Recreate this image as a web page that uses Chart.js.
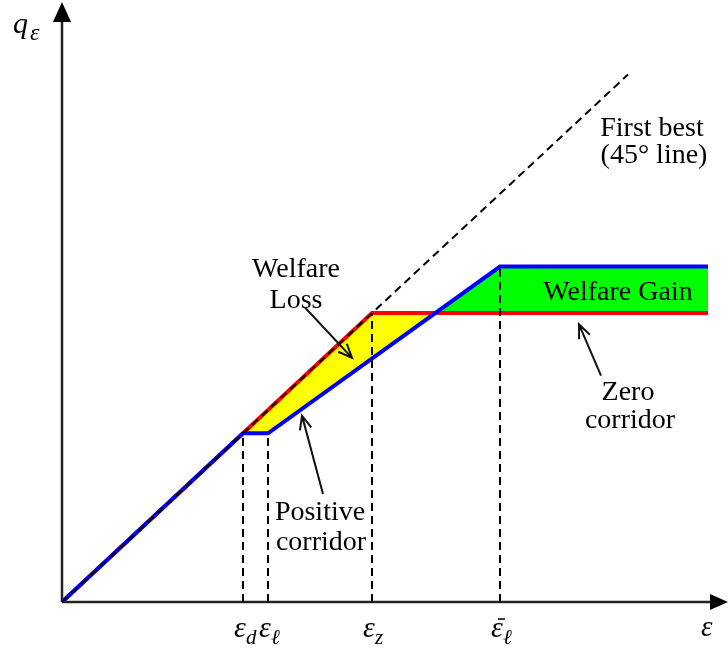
<!DOCTYPE html>
<html>
<head>
<meta charset="utf-8">
<script src="https://cdn.jsdelivr.net/npm/chart.js@4"></script>
<style>
  html, body { margin: 0; padding: 0; background: #fff; }
  #wrap { width: 728px; height: 648px; }
</style>
</head>
<body>
<div id="wrap"><canvas id="chart"></canvas></div>
<script>
// thresholds on the ε axis
const epsX = [181, 206, 310, 438];
const epsSub = ['d', 'ℓ', 'z', 'ℓ'];
const epsBar = [false, false, false, true];
// where each vertical guide stops (upper curve at that ε)
const guideTop = [181, 181, 310, 360];

// first best (45° line)
const firstBestX = [0, 566];
const firstBestY = [0, 566];
// zero corridor (red)
const zeroX = [0, 310, 646];
const zeroY = [0, 310, 310];
// positive corridor (blue)
const posX = [0, 181, 206, 438, 646];
const posY = [0, 181, 181, 360, 360];

const pts = (xs, ys) => xs.map((x, i) => ({ x: x, y: ys[i] }));

const dash = { borderColor: '#000', borderWidth: 2, borderDash: [8, 5], pointRadius: 0 };

const datasets = [
    Object.assign({ data: pts(firstBestX, firstBestY) }, dash)
];
epsX.forEach((x, i) => {
    datasets.push(Object.assign({ data: [{ x: x, y: 0 }, { x: x, y: guideTop[i] }] }, dash));
});
datasets.push({
    data: pts(posX, posY),
    borderColor: '#0000ff', borderWidth: 4, pointRadius: 0
});
datasets.push({
    data: pts(zeroX, zeroY),
    borderColor: '#ff0000', borderWidth: 4, pointRadius: 0,
    fill: { target: datasets.length - 1, above: '#ffff00', below: '#00ff00' }
});

// annotations (data units)
const notes = [
    { t: 'First best', x: 590, y: 500 },
    { t: '(45° line)', x: 592, y: 471 },
    { t: 'Welfare', x: 234, y: 349 },
    { t: 'Loss', x: 234, y: 315 },
    { t: 'Welfare Gain', x: 556, y: 324 },
    { t: 'Zero', x: 566, y: 217 },
    { t: 'corridor', x: 568, y: 187 },
    { t: 'Positive', x: 258, y: 88 },
    { t: 'corridor', x: 259, y: 56 }
];
const arrows = [
    { from: [243, 316], to: [290, 262] },
    { from: [539, 243], to: [517, 298] },
    { from: [261, 116], to: [240, 200] }
];

function arrowLine(ctx, x1, y1, x2, y2) {
    const a = Math.atan2(y2 - y1, x2 - x1);
    ctx.beginPath();
    ctx.moveTo(x1, y1);
    ctx.lineTo(x2, y2);
    ctx.moveTo(x2 - 15 * Math.cos(a - 0.4), y2 - 15 * Math.sin(a - 0.4));
    ctx.lineTo(x2, y2);
    ctx.lineTo(x2 - 15 * Math.cos(a + 0.4), y2 - 15 * Math.sin(a + 0.4));
    ctx.stroke();
}

const axesPlugin = {
    id: 'axes',
    beforeDatasetsDraw(chart) {
        const ctx = chart.ctx, sx = chart.scales.x, sy = chart.scales.y;
        const x0 = sx.getPixelForValue(0), y0 = sy.getPixelForValue(0);
        ctx.save();
        ctx.strokeStyle = '#222';
        ctx.fillStyle = '#000';
        ctx.lineWidth = 2.5;
        ctx.beginPath();
        ctx.moveTo(x0, y0);
        ctx.lineTo(x0, 18);
        ctx.moveTo(x0, y0);
        ctx.lineTo(chart.width - 14, y0);
        ctx.stroke();
        ctx.beginPath();
        ctx.moveTo(x0, 2);
        ctx.lineTo(x0 - 9, 22);
        ctx.lineTo(x0 + 9, 22);
        ctx.closePath();
        ctx.fill();
        ctx.beginPath();
        ctx.moveTo(chart.width, y0);
        ctx.lineTo(chart.width - 18, y0 - 8);
        ctx.lineTo(chart.width - 18, y0 + 8);
        ctx.closePath();
        ctx.fill();
        ctx.restore();
    },
    afterDraw(chart) {
        const ctx = chart.ctx, sx = chart.scales.x, sy = chart.scales.y;
        const y0 = sy.getPixelForValue(0);
        ctx.save();
        ctx.fillStyle = '#000';
        ctx.strokeStyle = '#000';
        ctx.textBaseline = 'alphabetic';

        // axis names
        ctx.textAlign = 'left';
        ctx.font = 'italic 30px "Liberation Serif"';
        ctx.fillText('q', 13, 33);
        ctx.font = 'italic 24px "Liberation Serif"';
        ctx.fillText('ε', 30, 40);
        ctx.font = 'italic 29px "Liberation Serif"';
        ctx.fillText('ε', chart.width - 27, y0 + 34);

        // ε tick labels
        epsX.forEach((v, i) => {
            const px = sx.getPixelForValue(v);
            ctx.font = 'italic 30px "Liberation Serif"';
            ctx.fillText('ε', px - 9, y0 + 35);
            ctx.font = 'italic 21px "Liberation Serif"';
            ctx.fillText(epsSub[i], px + 3, y0 + 42);
            if (epsBar[i]) {
                ctx.lineWidth = 1.5;
                ctx.beginPath();
                ctx.moveTo(px - 2, y0 + 17);
                ctx.lineTo(px + 5, y0 + 17);
                ctx.stroke();
            }
        });

        // annotations
        ctx.textAlign = 'center';
        ctx.font = '28px "Liberation Serif"';
        notes.forEach(n => {
            ctx.fillText(n.t, sx.getPixelForValue(n.x), sy.getPixelForValue(n.y));
        });
        ctx.lineWidth = 2;
        ctx.strokeStyle = '#111';
        arrows.forEach(a => {
            arrowLine(ctx,
                sx.getPixelForValue(a.from[0]), sy.getPixelForValue(a.from[1]),
                sx.getPixelForValue(a.to[0]), sy.getPixelForValue(a.to[1]));
        });
        ctx.restore();
    }
};

new Chart(document.getElementById('chart'), {
    type: 'line',
    data: { datasets: datasets },
    options: {
        responsive: true,
        maintainAspectRatio: false,
        animation: false,
        devicePixelRatio: 1,
        layout: { padding: { left: 62, right: 0, top: 0, bottom: 46 } },
        elements: { line: { tension: 0, borderJoinStyle: 'miter' } },
        scales: {
            x: { type: 'linear', min: 0, max: 666, display: false },
            y: { type: 'linear', min: 0, max: 646, display: false }
        },
        plugins: {
            legend: { display: false },
            tooltip: { enabled: false }
        }
    },
    plugins: [axesPlugin]
});
</script>
</body>
</html>
